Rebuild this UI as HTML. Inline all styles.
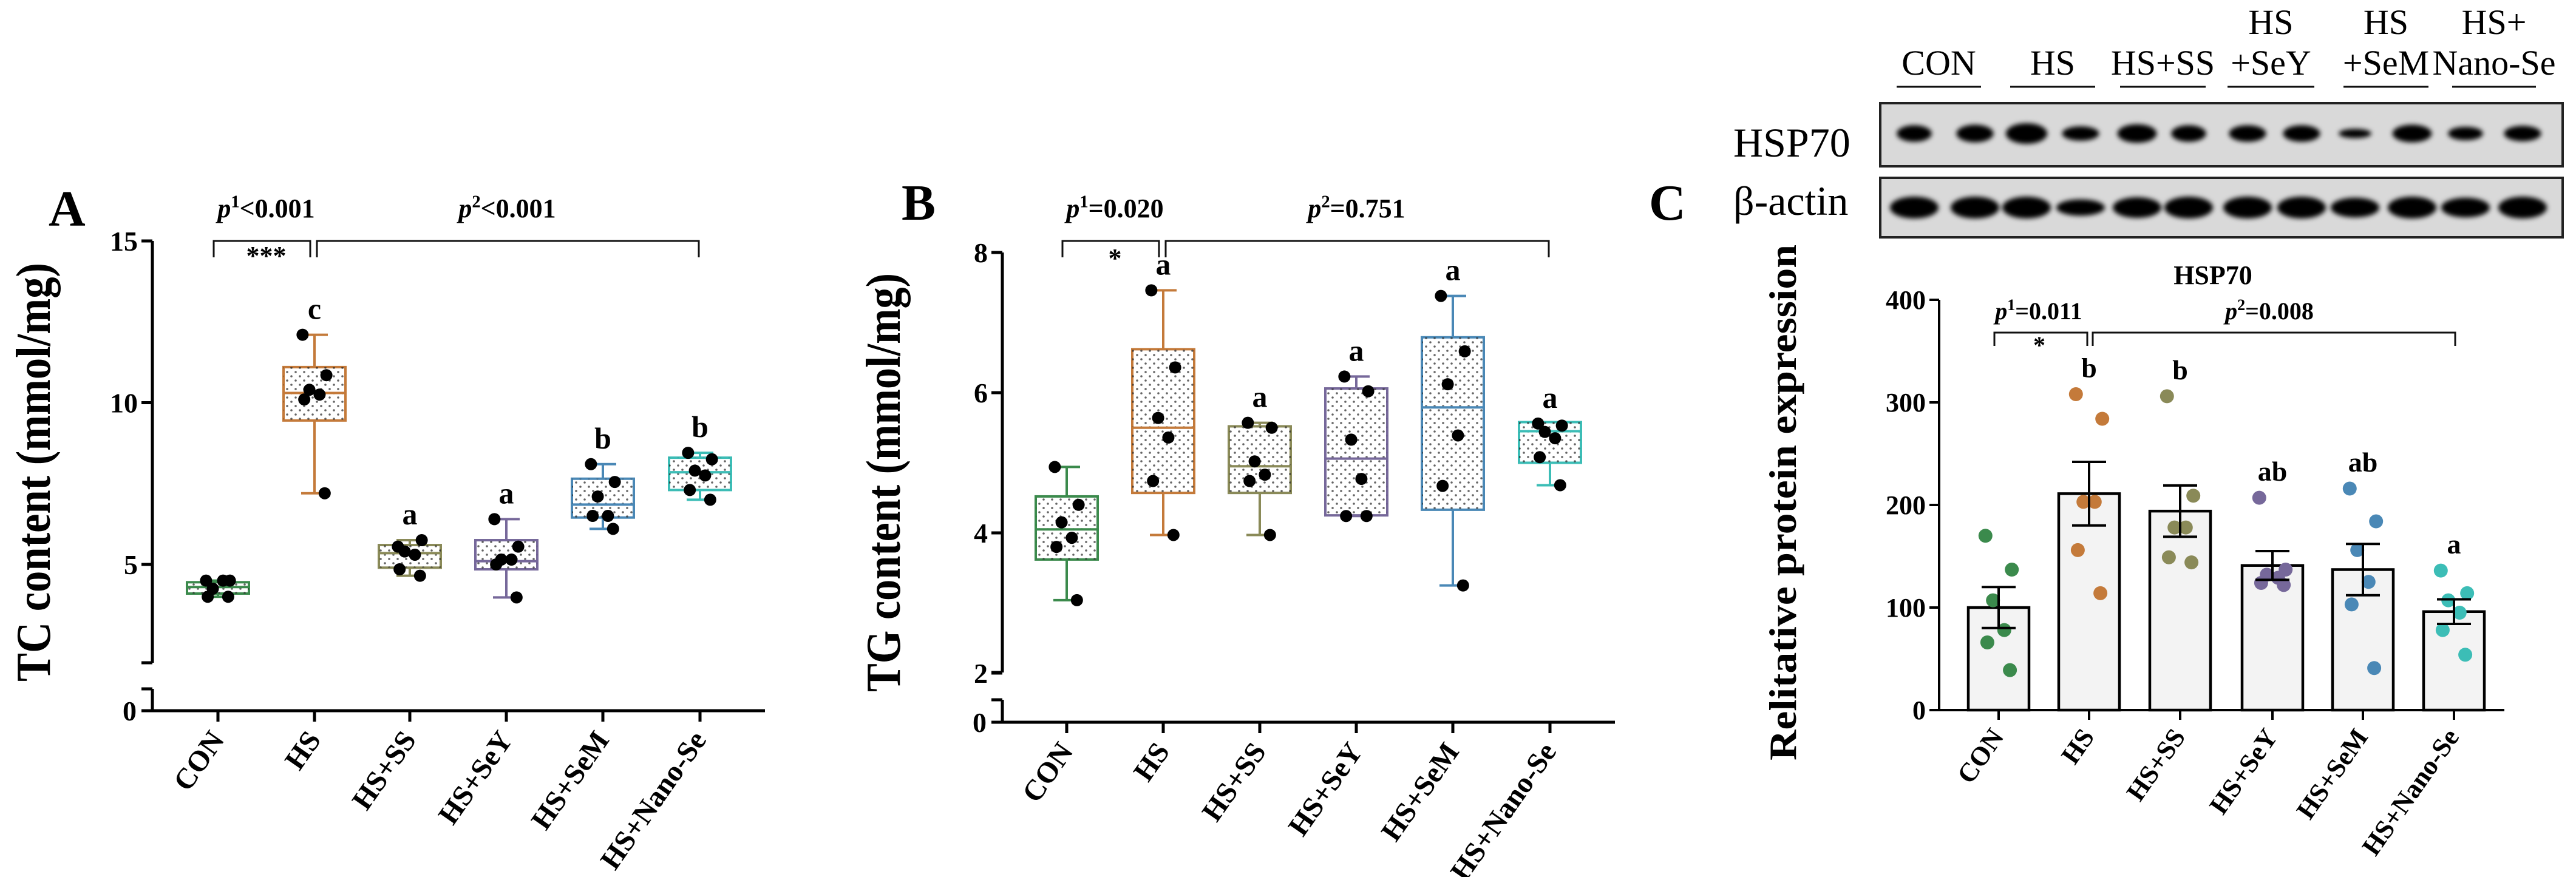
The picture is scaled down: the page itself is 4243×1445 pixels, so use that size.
<!DOCTYPE html>
<html><head><meta charset="utf-8"><style>
html,body{margin:0;padding:0;background:#fff;}
svg{display:block;font-family:"Liberation Serif",serif;}
svg text{font-family:"Liberation Serif",serif;}
</style></head><body>
<svg id="fig" width="4243" height="1445" viewBox="0 0 4243 1445" xmlns="http://www.w3.org/2000/svg" font-family="Liberation Serif, serif">
<defs>
<pattern id="dots" width="14" height="14" patternUnits="userSpaceOnUse"><circle cx="4" cy="4" r="1.8" fill="#222"/><circle cx="11" cy="11" r="1.8" fill="#222"/></pattern>
<filter id="blur" x="-30%" y="-60%" width="160%" height="220%"><feGaussianBlur stdDeviation="4"/></filter>
</defs>
<g id="gA"></g>
<g id="gB"></g>
<g id="gC"></g>
</svg>
<script>
const categories = ["CON","HS","HS+SS","HS+SeY","HS+SeM","HS+Nano-Se"];
const colors = ["#3b8a4c","#c47a3a","#8a8a58","#76689a","#4a88b6","#3cbdb6"];
// Panel A: TC content
const tcPoints = [[4.5,4.5,4.25,4.5,4.0,4.0],[12.1,10.85,10.4,10.25,10.1,7.2],[5.55,5.75,5.4,5.3,4.85,4.65],[6.4,5.55,5.15,5.15,5.0,3.98],[8.1,7.55,7.1,6.5,6.5,6.1],[8.45,8.25,7.9,7.75,7.3,7.0]];
const tcQ1 = [4.1,9.45,4.9,4.85,6.45,7.3];
const tcMedian = [4.3,10.3,5.35,5.1,6.85,7.85];
const tcQ3 = [4.45,11.1,5.6,5.75,7.65,8.3];
const tcLetters = ["","c","a","a","b","b"];
const tcTicks = [5,10,15];
// Panel B: TG content
const tgPoints = [[4.94,4.4,4.15,3.93,3.8,3.04],[7.46,6.36,5.64,5.36,4.74,3.97],[5.57,5.5,5.02,4.83,4.74,3.97],[6.23,6.02,5.33,4.77,4.24,4.24],[7.38,6.59,6.12,5.39,4.67,3.25],[5.56,5.53,5.44,5.35,5.08,4.68]];
const tgQ1 = [3.62,4.57,4.57,4.25,4.33,5.0];
const tgMedian = [4.05,5.5,4.95,5.06,5.79,5.45];
const tgQ3 = [4.52,6.62,5.52,6.06,6.79,5.58];
const tgLetters = ["","a","a","a","a","a"];
const tgTicks = [2,4,6,8];
// Panel C: HSP70
const hspMean = [100,211,194,141,137,96];
const hspSem = [20,31,25,14,25,12];
const hspPoints = [[170,137,107,78,66,39],[308,284,203,203,156,114],[306,209,178,178,149,144],[207,137,132,129,124,122],[216,184,156,125,103,41],[136,114,107,95,78,54]];
const hspLetters = ["","b","b","ab","ab","a"];
const hspTicks = [0,100,200,300,400];
// Western blot band intensities (relative width, height)
const hspBandW = [0.8,0.85,0.95,0.85,0.9,0.8,0.85,0.85,0.75,0.9,0.8,0.85];
const hspBandH = [0.8,0.85,1.0,0.7,0.9,0.8,0.8,0.8,0.45,0.85,0.65,0.75];
const actinBandH = [1,1,1,0.75,0.95,1,1,1,0.9,1,0.9,1];

const NS="http://www.w3.org/2000/svg";
function mk(parent, tag, attrs, text){
  const e=document.createElementNS(NS,tag);
  for(const k in attrs) e.setAttribute(k,attrs[k]);
  if(tag==='text') e.setAttribute('font-family','Liberation Serif, serif');
  if(text!==undefined) e.textContent=text;
  parent.appendChild(e); return e;
}
const jitter=[-0.35,0.35,-0.15,0.15,-0.3,0.3];

function xLabels(g, xs, axisY, fs){
  categories.forEach((c,i)=>{
    const t=mk(g,'text',{x:xs[i]+12,y:axisY+48,'font-size':fs,'font-weight':'bold','text-anchor':'end',transform:`rotate(-55 ${xs[i]+12} ${axisY+48})`},c);
    
    
  });
}
function pText(g,x,y,sup,rest,fs){
  const t=mk(g,'text',{x:x,y:y,'font-size':fs,'font-weight':'bold','text-anchor':'middle'});
  mk(t,'tspan',{'font-style':'italic'},'p');
  mk(t,'tspan',{'font-size':fs*0.65,dy:-fs*0.38},sup);
  mk(t,'tspan',{dy:fs*0.38},rest);
  
  
}
function bracket(g,x1,x2,y,drop,name){
  const p=mk(g,'path',{d:`M${x1} ${y+drop}V${y}H${x2}V${y+drop}`,fill:'none',stroke:'#111','stroke-width':3});
  
  
}

function boxPanel(cfg){
  const g=document.getElementById(cfg.id);
  const {ax,xEnd,axisY,xs,yScale,points,q1,med,q3,letters,ticks,breakTop,breakLow}=cfg;
  let a=mk(g,'path',{d:`M${ax} ${yScale(ticks[ticks.length-1])}V${breakTop}M${ax} ${breakLow}V${axisY}H${xEnd}`,stroke:'#000','stroke-width':5,fill:'none'});
   
  mk(g,'line',{x1:ax-18,x2:ax,y1:breakTop,y2:breakTop,stroke:'#000','stroke-width':5});
  mk(g,'line',{x1:ax-18,x2:ax,y1:breakLow,y2:breakLow,stroke:'#000','stroke-width':5});
  mk(g,'line',{x1:ax-18,x2:ax,y1:axisY,y2:axisY,stroke:'#000','stroke-width':5});
  let z=mk(g,'text',{x:ax-26,y:axisY+16,'font-size':46,'font-weight':'bold','text-anchor':'end'},'0');
   
  ticks.forEach(v=>{
    const y=yScale(v);
    mk(g,'line',{x1:ax-18,x2:ax,y1:y,y2:y,stroke:'#000','stroke-width':5});
    const t=mk(g,'text',{x:ax-24,y:y+16,'font-size':46,'font-weight':'bold','text-anchor':'end'},String(v));
     
  });
  xs.forEach(x=>mk(g,'line',{x1:x,x2:x,y1:axisY,y2:axisY+18,stroke:'#000','stroke-width':5}));
  xLabels(g,xs,axisY,48);
  const hw=51;
  points.forEach((pts,i)=>{
    const x=xs[i], c=colors[i];
    const bg=mk(g,'g',{});
    
    
    const mx=Math.max(...pts), mn=Math.min(...pts);
    mk(bg,'line',{x1:x,x2:x,y1:yScale(mx),y2:yScale(mn),stroke:c,'stroke-width':4});
    mk(bg,'line',{x1:x-22,x2:x+22,y1:yScale(mx),y2:yScale(mx),stroke:c,'stroke-width':4});
    mk(bg,'line',{x1:x-22,x2:x+22,y1:yScale(mn),y2:yScale(mn),stroke:c,'stroke-width':4});
    mk(bg,'rect',{x:x-hw,y:yScale(q3[i]),width:hw*2,height:yScale(q1[i])-yScale(q3[i]),fill:'#fff',stroke:c,'stroke-width':4});
    mk(bg,'rect',{x:x-hw,y:yScale(q3[i]),width:hw*2,height:yScale(q1[i])-yScale(q3[i]),fill:'url(#dots)',opacity:0.7});
    mk(bg,'line',{x1:x-hw,x2:x+hw,y1:yScale(med[i]),y2:yScale(med[i]),stroke:c,'stroke-width':4});
    pts.forEach((v,j)=>{
      const d=mk(bg,'circle',{cx:x+jitter[j]*hw*1.1,cy:yScale(v),r:10,fill:'#000'});
       
    });
    if(letters[i]){
      const l=mk(g,'text',{x:x,y:yScale(mx)-26,'font-size':50,'font-weight':'bold','text-anchor':'middle'},letters[i]);
       
    }
  });
  let L=mk(g,'text',{x:cfg.letterX,y:cfg.letterY,'font-size':84,'font-weight':'bold'},cfg.letter);
   
  let T=mk(g,'text',{x:0,y:0,'font-size':80,'font-weight':'bold','text-anchor':'middle',transform:`translate(${cfg.titleX} ${cfg.titleY}) rotate(-90)`,textLength:cfg.titleLen,lengthAdjust:'spacingAndGlyphs'},cfg.title);
   
  bracket(g,xs[0]-7,xs[1]-7,397,27,'bracket-1');
  bracket(g,xs[1]+4,xs[5]-2,397,27,'bracket-2');
  pText(g,(xs[0]+xs[1])/2,358,'1',cfg.p1,44);
  pText(g,(xs[1]+xs[5])/2,358,'2',cfg.p2,44);
  let s=mk(g,'text',{x:(xs[0]+xs[1])/2,y:cfg.starY,'font-size':44,'font-weight':'bold','text-anchor':'middle'},cfg.star);
   
}

const yA=v=>930-(v-5)*53.3;
boxPanel({id:'gA',ax:251,xEnd:1260,axisY:1171,xs:[359,518,675,834,993,1153],yScale:yA,points:tcPoints,q1:tcQ1,med:tcMedian,q3:tcQ3,letters:tcLetters,ticks:tcTicks,breakTop:1092,breakLow:1135,letter:'A',letterX:80,letterY:372,title:'TC content (mmol/mg)',titleX:82,titleY:778,titleLen:690,p1:'<0.001',p2:'<0.001',star:'***',starY:436});
const yB=v=>878-(v-4)*115.5;
boxPanel({id:'gB',ax:1651,xEnd:2660,axisY:1190,xs:[1757,1916,2075,2234,2393,2553],yScale:yB,points:tgPoints,q1:tgQ1,med:tgMedian,q3:tgQ3,letters:tgLetters,ticks:tgTicks,breakTop:1108,breakLow:1153,letter:'B',letterX:1485,letterY:362,title:'TG content (mmol/mg)',titleX:1482,titleY:795,titleLen:690,p1:'=0.020',p2:'=0.751',star:'*',starY:440});

(function(){
  const g=document.getElementById('gC');
  const ax=3194, axisY=1170, xEnd=4125;
  const xs=[3292,3441,3591,3743,3892,4042];
  const yC=v=>axisY-v*1.69;
  let a=mk(g,'path',{d:`M${ax} ${yC(400)}V${axisY}H${xEnd}`,stroke:'#000','stroke-width':4,fill:'none'});
   
  hspTicks.forEach(v=>{
    mk(g,'line',{x1:ax-16,x2:ax,y1:yC(v),y2:yC(v),stroke:'#000','stroke-width':4});
    const t=mk(g,'text',{x:ax-22,y:yC(v)+15,'font-size':44,'font-weight':'bold','text-anchor':'end'},String(v));
     
  });
  xs.forEach(x=>mk(g,'line',{x1:x,x2:x,y1:axisY,y2:axisY+16,stroke:'#000','stroke-width':4}));
  categories.forEach((c,i)=>{
    const x=xs[i]+10,y=axisY+44;
    const t=mk(g,'text',{x:x,y:y,'font-size':44,'font-weight':'bold','text-anchor':'end',transform:`rotate(-55 ${x} ${y})`},c);
     
  });
  hspMean.forEach((m,i)=>{
    const x=xs[i], c=colors[i];
    const bg=mk(g,'g',{});
    
    
    mk(bg,'rect',{x:x-50,y:yC(m),width:100,height:axisY-yC(m),fill:'#f3f3f3',stroke:'#000','stroke-width':4.5});
    hspPoints[i].forEach((v,j)=>{
      const d=mk(bg,'circle',{cx:x+jitter[j]*62,cy:yC(v),r:11.5,fill:c});
       
    });
    const t=yC(m+hspSem[i]), b=yC(m-hspSem[i]);
    mk(bg,'path',{d:`M${x} ${t}V${b}M${x-28} ${t}H${x+28}M${x-28} ${b}H${x+28}`,stroke:'#000','stroke-width':4,fill:'none'});
    if(hspLetters[i]){
      const top=Math.max(...hspPoints[i]);
      const l=mk(g,'text',{x:x,y:yC(top)-28,'font-size':46,'font-weight':'bold','text-anchor':'middle'},hspLetters[i]);
       
    }
  });
  let ti=mk(g,'text',{x:3645,y:468,'font-size':44,'font-weight':'bold','text-anchor':'middle'},'HSP70');
   
  let yt=mk(g,'text',{x:0,y:0,'font-size':64,'font-weight':'bold','text-anchor':'middle',transform:'translate(2958 828) rotate(-90)',textLength:850,lengthAdjust:'spacingAndGlyphs'},'Relitative protein expression');
   
  let L=mk(g,'text',{x:2716,y:362,'font-size':84,'font-weight':'bold'},'C');
   
  bracket(g,3285,3438,548,22,'bracket-1');
  bracket(g,3447,4044,548,22,'bracket-2');
  pText(g,3358,526,'1','=0.011',40);
  pText(g,3738,526,'2','=0.008',40);
  let s=mk(g,'text',{x:3359,y:582,'font-size':40,'font-weight':'bold','text-anchor':'middle'},'*');
   

  const wb=mk(g,'g',{});
   
  const heads=[["CON"],["HS"],["HS+SS"],["HS","+SeY"],["HS","+SeM"],["HS+","Nano-Se"]];
  const lines=[[3124,3263],[3311,3451],[3492,3633],[3669,3812],[3860,4000],[4039,4177]];
  heads.forEach((h,i)=>{
    const cx=(lines[i][0]+lines[i][1])/2;
    const gt=mk(wb,'g',{});
     
    if(h.length===1) mk(gt,'text',{x:cx,y:123,'font-size':58,'text-anchor':'middle'},h[0]);
    else { mk(gt,'text',{x:cx,y:56,'font-size':58,'text-anchor':'middle'},h[0]); mk(gt,'text',{x:cx,y:123,'font-size':58,'text-anchor':'middle'},h[1]); }
    mk(gt,'line',{x1:lines[i][0],x2:lines[i][1],y1:143,y2:143,stroke:'#111','stroke-width':3});
  });
  let hl=mk(wb,'text',{x:2855,y:258,'font-size':68},'HSP70');
   
  let bl=mk(wb,'text',{x:2855,y:354,'font-size':68},'β-actin');
   
  const lanes=[3153,3253,3338,3427,3520,3605,3702,3791,3879,3973,4061,4155];
  [[170,274,'hsp70-blot'],[293,391,'beta-actin-blot']].forEach(([y1,y2,nm],k)=>{
    const bx=mk(wb,'g',{});
     
    mk(bx,'rect',{x:3097,y:y1,width:1124,height:y2-y1,fill:'#d9d9d9'});
    const bands=mk(bx,'g',{filter:'url(#blur)'});
    lanes.forEach((lx,i)=>{
      const cy=k===0?220:342;
      const w=k===0?36*hspBandW[i]:40;
      const h=k===0?17*hspBandH[i]:18*actinBandH[i];
      mk(bands,'ellipse',{cx:lx,cy:cy,rx:w,ry:h,fill:'#000'});
    });
    mk(bx,'rect',{x:3097,y:y1,width:1124,height:y2-y1,fill:'none',stroke:'#222','stroke-width':4});
  });
})();
</script>
</body></html>
